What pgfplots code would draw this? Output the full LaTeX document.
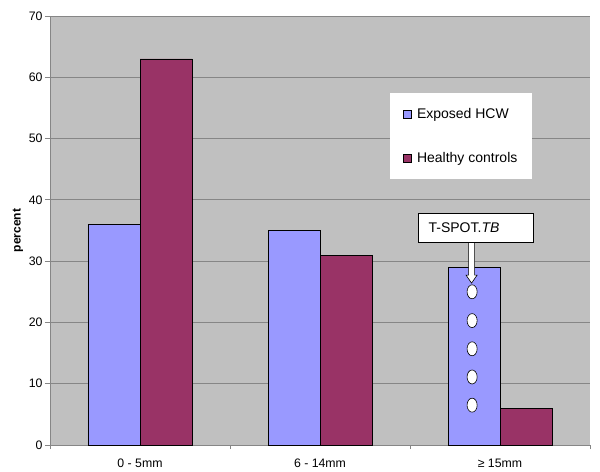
\documentclass[border=0pt]{standalone}
\usepackage{pgfplots}
\pgfplotsset{compat=1.18}
\usepackage{fontspec}
\setmainfont{Liberation Sans}
\definecolor{hcw}{HTML}{9999FF}
\definecolor{hc}{HTML}{993366}
\definecolor{bg}{HTML}{C0C0C0}
\definecolor{gridc}{HTML}{868686}
\begin{document}
\begin{tikzpicture}
\begin{axis}[
  scale only axis, width=540pt, height=429pt,
  xmin=-0.5, xmax=2.5, ymin=0, ymax=70,
  axis background/.style={fill=bg},
  axis x line*=bottom, axis y line*=left,
  axis line style={gridc, line width=0.8pt},
  ytick={0,10,...,70},
  ymajorgrids, major grid style={gridc, line width=0.8pt},
  tick align=outside,
  major tick length=5pt,
  tick style={gridc, line width=0.8pt},
  xtick={0,1,2}, xticklabels={0 - 5mm, 6 - 14mm, ≥ 15mm},
  x tick style={draw=none},
  extra x ticks={-0.5,0.5,1.5,2.5}, extra x tick labels={},
  extra x tick style={grid=none, x tick style={draw=gridc, line width=0.8pt}, major tick length=4pt},
  xticklabel style={yshift=-5pt},
  yticklabel style={xshift=1pt},
  tick label style={font=\fontsize{12.3}{14}\selectfont},
  /pgf/number format/assume math mode=true,
  ylabel={percent},
  every axis y label/.style={at={(axis description cs:-0.0593,0.5)}, rotate=90, anchor=center, font=\bfseries\fontsize{12}{14}\selectfont},
  legend style={at={(rel axis cs:0.63,0.82)}, anchor=north west, draw=none, fill=white,
    inner xsep=13pt, inner ysep=13pt, row sep=28pt, column sep=3pt, font=\fontsize{14}{16}\selectfont,
    nodes={inner sep=2pt}},
  legend cell align=left,
]
\addplot[ybar, bar width=52pt, bar shift=-26pt, fill=hcw, draw=black, line width=0.6pt,
  legend image code/.code={\draw[fill=hcw, draw=black, line width=0.6pt] (0pt,-4pt) rectangle (8pt,4pt);}]
  coordinates {(0,36) (1,35) (2,29)};
\addplot[ybar, bar width=52pt, bar shift=26pt, fill=hc, draw=black, line width=0.6pt,
  legend image code/.code={\draw[fill=hc, draw=black, line width=0.6pt] (0pt,-4pt) rectangle (8pt,4pt);}]
  coordinates {(0,63) (1,31) (2,6)};
\legend{Exposed HCW, Healthy controls}
\addplot[forget plot, only marks, mark=*, mark size=7pt,
  mark options={fill=white, draw=black, line width=0.6pt, xscale=0.72}]
  coordinates {(1.845,25) (1.845,20.3) (1.845,15.7) (1.845,11.1) (1.845,6.5)};
% callout
\draw[fill=white, draw=black, line width=0.6pt] (axis cs:1.842,33.1)
  ++(-3pt,0pt) -- ++(0pt,-33pt) -- ++(-2.5pt,0pt) -- ++(5.5pt,-8pt) -- ++(5.5pt,8pt) -- ++(-2.5pt,0pt) -- ++(0pt,33pt) -- cycle;
\node[draw=black, fill=white, line width=0.6pt, minimum width=115pt, minimum height=29pt, inner sep=0pt]
  at (axis cs:1.864,35.48) {};
\node[font=\fontsize{14}{16}\selectfont] at (axis cs:1.80,35.48) {T-SPOT.\textit{TB}};
\end{axis}
\pgfresetboundingbox
\useasboundingbox ([shift={(-50pt,-26pt)}]current axis.south west) rectangle ([shift={(10pt,16pt)}]current axis.north east);
\end{tikzpicture}
\end{document}
